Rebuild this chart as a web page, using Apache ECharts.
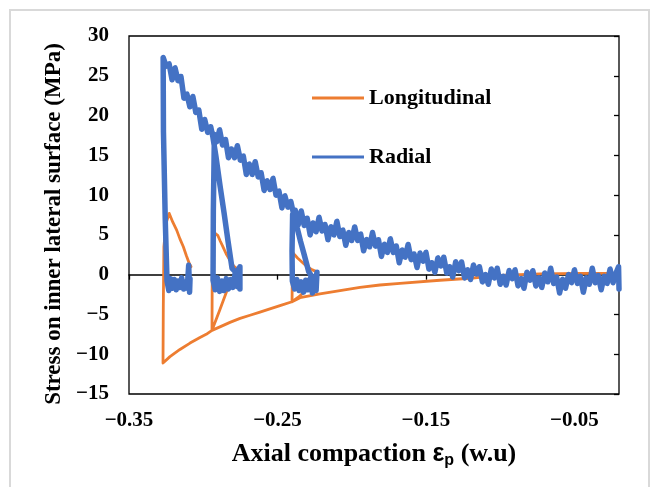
<!DOCTYPE html>
<html>
<head>
<meta charset="utf-8">
<script src="https://cdn.jsdelivr.net/npm/echarts@6/dist/echarts.min.js"></script>
<style>html,body{margin:0;padding:0;background:#fff;}#c{width:660px;height:487px;}</style>
</head>
<body>
<div id="c"></div>
<script>
// ---- data (x = axial compaction, y = stress in MPa) ----
const seriesNames = ['Longitudinal', 'Radial'];
const xTicks = { min: -0.35, max: -0.02, interval: 0.1 };
const yTicks = { min: -15, max: 30, interval: 5 };

const longitudinal = [
  [-0.0200, 0.15], [-0.0463, 0.15], [-0.0732, 0.1], [-0.1002, -0.1], [-0.1204, -0.45], [-0.1406, -0.7],
  [-0.1675, -1.1], [-0.1810, -1.3], [-0.1944, -1.6], [-0.2079, -2.0], [-0.2214, -2.4], [-0.2348, -2.9], [-0.2402, -3.4],
  [-0.2400, 0.5], [-0.2398, 2.8], [-0.2380, 2.4], [-0.2365, 2.1], [-0.2330, 1.5], [-0.2300, 1.0], [-0.2265, 0.6], [-0.2234, 0.35],
  [-0.2260, -0.6], [-0.2300, -1.7], [-0.2350, -2.7], [-0.2402, -3.4],
  [-0.2483, -3.9], [-0.2551, -4.3], [-0.2618, -4.7], [-0.2685, -5.1], [-0.2752, -5.5], [-0.2820, -6.0], [-0.2880, -6.5], [-0.2941, -7.0],
  [-0.2940, -2.0], [-0.2936, 4.6], [-0.2920, 5.2], [-0.2901, 4.9], [-0.2885, 4.2], [-0.2867, 3.5], [-0.2845, 2.6], [-0.2820, 1.8],
  [-0.2795, 1.1], [-0.2766, 0.6], [-0.2800, -0.6], [-0.2840, -2.0], [-0.2890, -4.5], [-0.2941, -7.0],
  [-0.2980, -7.5], [-0.3022, -7.9], [-0.3089, -8.6], [-0.3157, -9.4], [-0.3224, -10.3], [-0.3271, -11.1],
  [-0.3269, -4.0], [-0.3265, 3.5], [-0.3250, 6.5], [-0.3229, 7.7], [-0.3205, 6.6], [-0.3179, 5.6], [-0.3157, 4.5],
  [-0.3134, 3.5], [-0.3114, 2.4], [-0.3094, 1.4], [-0.3082, 1.0]
];

const radial = [
  // right end, envelope towards cycle 3
  [-0.0200, -1.8], [-0.0203, 1.0],
  [-0.022, 0.2], [-0.024, -1.0], [-0.026, 0.7], [-0.028, -1.1], [-0.030, -0.2], [-0.032, -1.9], [-0.034, -0.1], [-0.036, -1.0],
  [-0.038, 0.8], [-0.040, -1.2], [-0.042, -0.4], [-0.044, -2.2], [-0.046, -0.2], [-0.048, -1.1], [-0.050, 0.6], [-0.052, -1.0],
  [-0.054, 0.0], [-0.056, -1.7], [-0.058, -0.6], [-0.060, -2.3], [-0.062, -0.3], [-0.064, -1.1], [-0.066, 0.8], [-0.068, -0.9],
  [-0.070, 0.2], [-0.072, -1.6], [-0.074, -0.4], [-0.076, -1.4], [-0.078, 0.5], [-0.080, -0.7], [-0.082, 0.3], [-0.084, -1.7],
  [-0.086, -0.5], [-0.088, -1.4], [-0.090, 0.6], [-0.092, -0.5], [-0.094, 0.5], [-0.096, -1.3], [-0.098, -0.2], [-0.100, -1.2],
  [-0.102, 0.8], [-0.104, -0.4], [-0.106, 0.7], [-0.108, -1.2], [-0.110, 0.0], [-0.112, -0.9], [-0.114, 1.0], [-0.116, 0.1],
  [-0.118, 1.2], [-0.120, -0.6], [-0.122, 0.6], [-0.124, -0.4], [-0.126, 1.6], [-0.128, 0.5], [-0.130, 1.6], [-0.132, -0.3],
  [-0.134, 1.0], [-0.136, 0.2], [-0.138, 2.2], [-0.140, 1.1], [-0.142, 2.1], [-0.144, 0.3], [-0.146, 1.5], [-0.148, 0.7],
  [-0.150, 2.8], [-0.152, 1.7], [-0.154, 2.7], [-0.156, 0.9], [-0.158, 2.6], [-0.160, 1.9], [-0.162, 3.8], [-0.164, 2.2],
  [-0.166, 3.1], [-0.168, 1.5], [-0.170, 3.6], [-0.172, 2.8], [-0.174, 4.5], [-0.176, 2.8], [-0.178, 3.8], [-0.180, 2.3],
  [-0.182, 4.4], [-0.184, 3.6], [-0.186, 5.3], [-0.188, 3.5], [-0.190, 4.4], [-0.192, 3.0], [-0.194, 5.1], [-0.196, 4.3],
  [-0.198, 6.0], [-0.200, 4.3], [-0.202, 5.3], [-0.204, 3.7], [-0.206, 5.6], [-0.208, 4.8], [-0.210, 6.7], [-0.212, 5.0],
  [-0.214, 6.0], [-0.216, 4.4], [-0.218, 6.3], [-0.220, 5.5], [-0.222, 7.2], [-0.224, 5.4], [-0.226, 6.5], [-0.228, 5.0],
  [-0.230, 7.1], [-0.232, 6.2], [-0.234, 8.0], [-0.236, 6.3], [-0.238, 8.1], [-0.2398, 7.6],
  // unload 3 and rebound blob
  [-0.2402, 3.0], [-0.2400, -0.8],
  [-0.2385, -1.8], [-0.2370, -0.6], [-0.2355, -2.0], [-0.2340, -0.9], [-0.2325, -2.2], [-0.2310, -0.7], [-0.2295, -1.9],
  [-0.2280, -0.5], [-0.2265, -2.3], [-0.2250, -0.8], [-0.2240, -2.0], [-0.2234, 0.3], [-0.2250, -1.2], [-0.2270, -0.2], [-0.2290, 0.4],
  // reload 3
  [-0.2320, 2.5], [-0.2345, 4.2], [-0.2369, 6.0], [-0.2390, 7.5],
  // envelope between cycles 3 and 2
  [-0.241, 9.2], [-0.243, 8.5], [-0.245, 9.9], [-0.247, 8.4], [-0.249, 10.5], [-0.251, 10.0], [-0.253, 12.1], [-0.255, 10.7],
  [-0.257, 11.8], [-0.259, 10.6], [-0.261, 12.8], [-0.263, 12.3], [-0.265, 14.2], [-0.267, 12.6], [-0.269, 13.9], [-0.271, 12.6],
  [-0.273, 14.9], [-0.275, 14.4], [-0.277, 16.2], [-0.279, 14.7], [-0.281, 15.8], [-0.283, 14.7], [-0.285, 17.0], [-0.287, 16.3],
  [-0.289, 18.2], [-0.291, 16.7], [-0.2925, 17.6],
  // unload 2 and rebound blob
  [-0.2932, 8.0], [-0.2934, -0.7],
  [-0.2920, -1.9], [-0.2905, -0.4], [-0.2890, -2.1], [-0.2875, -0.8], [-0.2860, -2.0], [-0.2845, -0.5], [-0.2830, -1.8],
  [-0.2815, -0.6], [-0.2800, -1.6], [-0.2785, 0.2], [-0.2770, -1.5], [-0.2760, 0.8], [-0.2753, -1.8], [-0.2753, 1.0], [-0.2775, 0.2],
  // reload 2
  [-0.2806, 0.8], [-0.2833, 4.2], [-0.2860, 7.8], [-0.2887, 11.2], [-0.2914, 14.8], [-0.2935, 17.3],
  // envelope up to the peak
  [-0.295, 18.6], [-0.297, 17.9], [-0.299, 19.5], [-0.301, 18.3], [-0.303, 20.7], [-0.305, 20.4], [-0.307, 22.4], [-0.309, 21.1],
  [-0.311, 22.7], [-0.313, 22.2], [-0.315, 24.9], [-0.317, 24.4], [-0.319, 26.0], [-0.321, 24.5], [-0.323, 26.5], [-0.325, 26.2],
  [-0.327, 27.3], [-0.3277, 27.2],
  // final unload and rebound blob
  [-0.3268, 18.0], [-0.3256, 7.0], [-0.3244, -0.8],
  [-0.3232, -2.0], [-0.3220, -0.5], [-0.3208, -1.7], [-0.3195, -0.6], [-0.3182, -1.9], [-0.3170, -0.8], [-0.3157, -1.6],
  [-0.3145, -0.4], [-0.3132, -1.8], [-0.3120, -0.9], [-0.3108, -1.7], [-0.3098, 1.2], [-0.3092, -2.2], [-0.3089, -0.5]
];

// ---- chart ----
const serif = 'Liberation Serif';
const minus = v => (v < 0 ? '\u2212' : '') + Math.abs(v);
const chart = echarts.init(document.getElementById('c'), null, { renderer: 'canvas' });
chart.setOption({
  animation: false,
  backgroundColor: '#fff',
  graphic: [{
    type: 'rect', silent: true, z: -10,
    shape: { x: 10, y: 10, width: 639, height: 500 },
    style: { fill: 'none', stroke: '#d9d9d9', lineWidth: 2 }
  }],
  grid: { left: 129, right: 41, top: 36, bottom: 93, show: true, borderColor: '#000', borderWidth: 1.3, backgroundColor: 'transparent' },
  legend: {
    orient: 'vertical', left: 307, top: 82, itemWidth: 52, itemHeight: 3, itemGap: 37, itemTextGap: 6, icon: 'rect',
    textStyle: { fontFamily: serif, fontWeight: 'bold', fontSize: 22, color: '#000' },
    data: seriesNames
  },
  xAxis: [{
    type: 'value', min: xTicks.min, max: xTicks.max, interval: xTicks.interval, position: 'bottom',
    axisLine: { show: false, onZero: false }, axisTick: { show: false }, splitLine: { show: false },
    axisLabel: { margin: 16, fontFamily: serif, fontWeight: 'bold', fontSize: 21, color: '#000',
      formatter: v => '\u2212' + Math.abs(v).toFixed(2) },
    name: 'Axial compaction {e|\u03b5}{s|p} (w.u)', nameLocation: 'middle', nameGap: 45,
    nameTextStyle: { fontFamily: serif, fontWeight: 'bold', fontSize: 26, color: '#000',
      rich: {
        e: { fontFamily: 'Liberation Sans', fontWeight: 'bold', fontSize: 25, color: '#000' },
        s: { fontFamily: 'Liberation Sans', fontWeight: 'bold', fontSize: 16, color: '#000', padding: [14, 0, 0, 0] }
      } }
  }, {
    type: 'value', min: xTicks.min, max: xTicks.max, interval: xTicks.interval, position: 'bottom',
    axisLine: { show: true, onZero: true, onZeroAxisIndex: 0, lineStyle: { color: '#000', width: 1.5 } },
    axisTick: { show: true, inside: false, length: 5, lineStyle: { color: '#000', width: 1.3 } },
    axisLabel: { show: false }, splitLine: { show: false }
  }],
  yAxis: [{
    type: 'value', min: yTicks.min, max: yTicks.max, interval: yTicks.interval, position: 'left',
    axisLine: { show: false, onZero: false }, axisTick: { show: false }, splitLine: { show: false },
    axisLabel: { margin: 20, fontFamily: serif, fontWeight: 'bold', fontSize: 21, color: '#000', formatter: minus },
    name: 'Stress on inner lateral surface (MPa)', nameLocation: 'middle', nameGap: 59,
    nameTextStyle: { fontFamily: serif, fontWeight: 'bold', fontSize: 23, color: '#000', padding: [0, 18, 0, 0] }
  }, {
    type: 'value', min: yTicks.min, max: yTicks.max, interval: yTicks.interval, position: 'right',
    axisLine: { show: false, onZero: false },
    axisTick: { show: true, inside: true, length: 5, lineStyle: { color: '#000', width: 1.3 } },
    axisLabel: { show: false }, splitLine: { show: false }
  }],
  series: [{
    name: seriesNames[0], type: 'line', xAxisIndex: 0, yAxisIndex: 0, data: longitudinal,
    showSymbol: false, symbol: 'none', color: '#ED7D31',
    lineStyle: { width: 2.8, color: '#ED7D31', join: 'round', cap: 'round' }, z: 2
  }, {
    name: seriesNames[1], type: 'line', xAxisIndex: 0, yAxisIndex: 0, data: radial,
    showSymbol: false, symbol: 'none', color: '#4472C4',
    lineStyle: { width: 5.5, color: '#4472C4', join: 'round', cap: 'round' }, z: 3
  }]
});
</script>
</body>
</html>
